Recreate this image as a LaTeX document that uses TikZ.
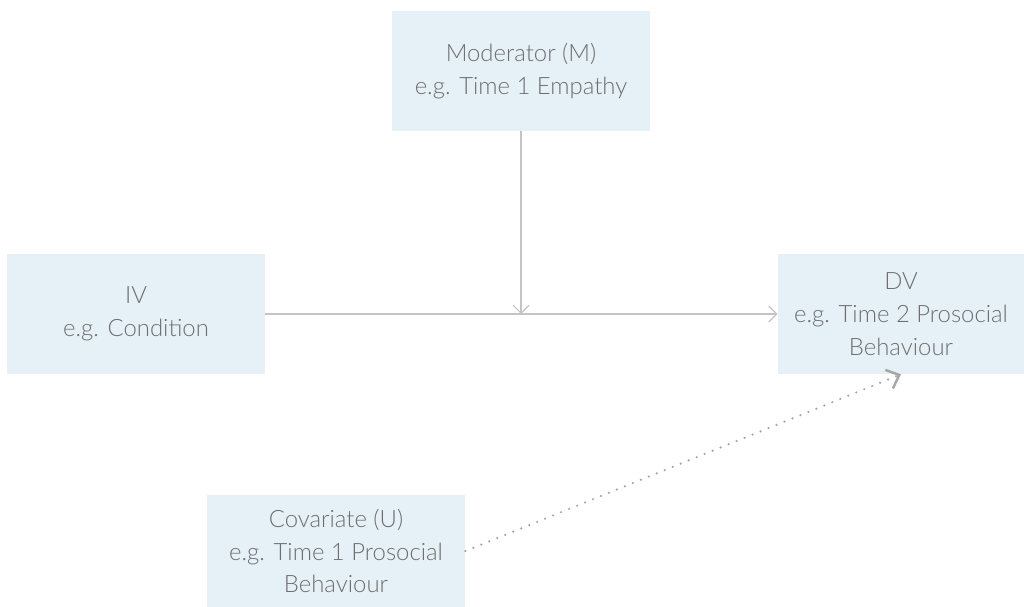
\documentclass[tikz,border=0pt]{standalone}
\usepackage{fontspec}
\setmainfont{Lato Light}
\usetikzlibrary{arrows.meta,positioning}
\definecolor{boxfill}{HTML}{E6F0F7}
\definecolor{txtgray}{HTML}{6E6E6E}
\definecolor{linegray}{HTML}{C4C4C4}
\definecolor{dotgray}{HTML}{A6A6A6}
\tikzset{
  varbox/.style={fill=boxfill, rectangle, minimum height=2.4cm, minimum width=5.16cm, align=center, text=txtgray, font=\fontsize{13.6}{18.6}\selectfont, inner sep=0pt},
  arr/.style={-{Straight Barb[length=1.6mm, width=3.2mm]}, linegray, line width=0.7pt},
  darr/.style={-{Straight Barb[length=2.2mm, width=4mm, line width=1.4pt]}, dotgray, line width=1.4pt, line cap=round, dash pattern=on 0pt off 4.9pt},
}
\begin{document}
\begin{tikzpicture}[x=0.02cm, y=-0.02cm]
\useasboundingbox (0,0) rectangle (1024,607);

\node[varbox] (mod) at (521,71) {Moderator (M)\\e.g. Time 1 Empathy};
\node[varbox] (iv) at (136,314) {IV\\e.g. Condition};
\node[varbox, minimum width=4.92cm] (dv) at (901,314) {DV\\e.g. Time 2 Prosocial\\Behaviour};
\node[varbox, minimum height=2.24cm] (cov) at (336,551) {Covariate (U)\\e.g. Time 1 Prosocial\\Behaviour};

\draw[arr] (iv.east) -- (dv.west);
\draw[arr] (mod.south) -- (mod.south |- iv.east);
\draw[darr] (cov.east) -- (dv.south);

\end{tikzpicture}
\end{document}
